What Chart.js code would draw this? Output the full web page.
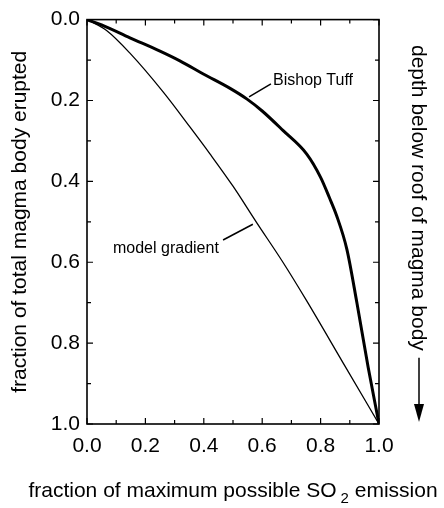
<!DOCTYPE html>
<html>
<head>
<meta charset="utf-8">
<script src="https://cdn.jsdelivr.net/npm/chart.js@4.4.0/dist/chart.umd.min.js"></script>
<style>
  html, body { margin: 0; padding: 0; background: #fff; }
  #wrap { width: 444px; height: 508px; }
</style>
</head>
<body>
<div id="wrap"><canvas id="chart" width="444" height="508"></canvas></div>
<script>
// Bishop Tuff curve (fraction of SO2 emission vs fraction erupted)
const bishopX = [0, 0.05, 0.147, 0.25, 0.318, 0.40, 0.49, 0.547, 0.60, 0.671, 0.752, 0.80, 0.83, 0.855, 0.89, 0.924, 0.963, 1.0];
const bishopY = [0, 0.013, 0.045, 0.078, 0.102, 0.135, 0.170, 0.196, 0.226, 0.274, 0.332, 0.39, 0.44, 0.485, 0.568, 0.699, 0.86, 1.0];

// model gradient curve
const modelX = [0, 0.067, 0.147, 0.262, 0.353, 0.421, 0.50, 0.581, 0.671, 0.752, 0.878, 1.0];
const modelY = [0, 0.027, 0.083, 0.18, 0.266, 0.332, 0.412, 0.502, 0.60, 0.695, 0.85, 1.0];

// axis ticks
const majorTicks = [0, 0.2, 0.4, 0.6, 0.8, 1.0];
const minorTicks = [0.1, 0.3, 0.5, 0.7, 0.9];

const xTitle = ['fraction of maximum possible SO', '2', ' emission'];
const yTitle = 'fraction of total magma body erupted';
const rightTitle = 'depth below roof of magma body';

const FONT = 'Arial, "Liberation Sans", Helvetica, sans-serif';

function toPoints(xs, ys) {
    return xs.map((x, i) => ({ x: x, y: ys[i] }));
}

// frame, inward ticks on all four sides, labels and the side captions
const decorations = {
    id: 'decorations',
    afterDraw(chart) {
        const ctx = chart.ctx;
        const a = chart.chartArea;
        const xs = chart.scales.x;
        const ys = chart.scales.y;
        ctx.save();
        ctx.strokeStyle = '#000';
        ctx.fillStyle = '#000';
        ctx.lineWidth = 1.6;
        ctx.strokeRect(a.left, a.top, a.right - a.left, a.bottom - a.top);

        ctx.lineWidth = 1.2;
        const tick = (v, len) => {
            const px = xs.getPixelForValue(v);
            const py = ys.getPixelForValue(v);
            ctx.beginPath();
            ctx.moveTo(px, a.bottom); ctx.lineTo(px, a.bottom - len);
            ctx.moveTo(px, a.top); ctx.lineTo(px, a.top + len);
            ctx.moveTo(a.left, py); ctx.lineTo(a.left + len, py);
            ctx.moveTo(a.right, py); ctx.lineTo(a.right - len, py);
            ctx.stroke();
        };
        majorTicks.forEach(v => tick(v, 6));
        minorTicks.forEach(v => tick(v, 4));

        // curve labels with leader lines
        ctx.font = '16px ' + FONT;
        ctx.textBaseline = 'middle';
        ctx.textAlign = 'left';
        ctx.lineWidth = 1.5;
        const lead = (x1, y1, x2, y2) => {
            ctx.beginPath();
            ctx.moveTo(xs.getPixelForValue(x1), ys.getPixelForValue(y1));
            ctx.lineTo(xs.getPixelForValue(x2), ys.getPixelForValue(y2));
            ctx.stroke();
        };
        lead(0.555, 0.191, 0.630, 0.159);
        ctx.fillText('Bishop Tuff', xs.getPixelForValue(0.637), ys.getPixelForValue(0.152));
        lead(0.466, 0.545, 0.568, 0.506);
        ctx.fillText('model gradient', xs.getPixelForValue(0.089), ys.getPixelForValue(0.567));

        // x axis title with subscript
        ctx.font = '21px ' + FONT;
        ctx.textBaseline = 'alphabetic';
        const w0 = ctx.measureText(xTitle[0]).width;
        const w2 = ctx.measureText(xTitle[2]).width;
        ctx.font = '15px ' + FONT;
        const w1 = ctx.measureText(xTitle[1]).width + 4;
        let x = (a.left + a.right) / 2 - (w0 + w1 + w2) / 2;
        const base = 497;
        ctx.font = '21px ' + FONT;
        ctx.fillText(xTitle[0], x, base);
        ctx.font = '15px ' + FONT;
        ctx.fillText(xTitle[1], x + w0 + 4, base + 6);
        ctx.font = '21px ' + FONT;
        ctx.fillText(xTitle[2], x + w0 + w1, base);

        // right caption reading downward, with arrow
        ctx.save();
        ctx.translate(418, 45);
        ctx.rotate(Math.PI / 2);
        ctx.font = '21px ' + FONT;
        ctx.textBaseline = 'middle';
        ctx.fillText(rightTitle, 0, 0);
        const tw = ctx.measureText(rightTitle).width;
        ctx.restore();
        const lineTop = 45 + tw + 7;
        ctx.lineWidth = 1.5;
        ctx.beginPath();
        ctx.moveTo(419, lineTop);
        ctx.lineTo(419, 408);
        ctx.stroke();
        ctx.beginPath();
        ctx.moveTo(414, 404);
        ctx.lineTo(424, 404);
        ctx.lineTo(419, 422);
        ctx.closePath();
        ctx.fill();
        ctx.restore();
    }
};

const ctx = document.getElementById('chart').getContext('2d');
const chart = new Chart(ctx, {
    type: 'scatter',
    data: {
        datasets: [{
            label: 'Bishop Tuff',
            data: toPoints(bishopX, bishopY),
            showLine: true,
            borderColor: '#000',
            borderWidth: 3,
            pointRadius: 0,
            cubicInterpolationMode: 'monotone'
        }, {
            label: 'model gradient',
            data: toPoints(modelX, modelY),
            showLine: true,
            borderColor: '#000',
            borderWidth: 1.3,
            pointRadius: 0,
            cubicInterpolationMode: 'monotone'
        }]
    },
    options: {
        responsive: false,
        animation: false,
        layout: { padding: { left: 0, top: 15, right: 65, bottom: 0 } },
        plugins: {
            legend: { display: false },
            tooltip: { enabled: false }
        },
        scales: {
            x: {
                type: 'linear',
                position: 'bottom',
                min: 0,
                max: 1,
                grid: { display: false, drawTicks: false },
                border: { display: false },
                ticks: {
                    stepSize: 0.2,
                    padding: 10,
                    color: '#000',
                    font: { family: FONT, size: 21 },
                    maxRotation: 0,
                    callback: v => v.toFixed(1)
                },
                afterFit: scale => { scale.height = 84; }
            },
            y: {
                type: 'linear',
                position: 'left',
                reverse: true,
                min: 0,
                max: 1,
                grid: { display: false, drawTicks: false },
                border: { display: false },
                ticks: {
                    stepSize: 0.2,
                    padding: 7,
                    color: '#000',
                    font: { family: FONT, size: 21 },
                    callback: v => v.toFixed(1)
                },
                title: {
                    display: true,
                    text: yTitle,
                    color: '#000',
                    font: { family: FONT, size: 21 },
                    padding: { top: 8, bottom: 0 }
                },
                afterFit: scale => { scale.width = 87; }
            }
        }
    },
    plugins: [decorations]
});
</script>
</body>
</html>
